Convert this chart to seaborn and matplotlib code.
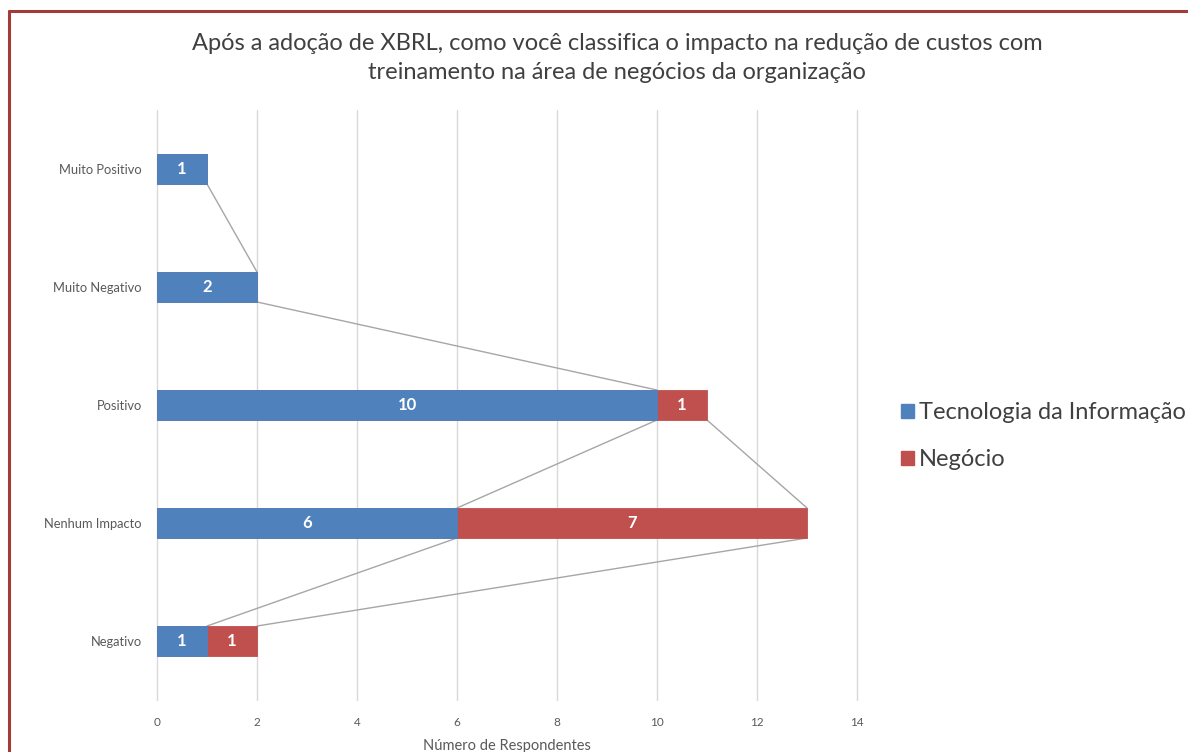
import matplotlib
matplotlib.use("Agg")
import matplotlib.pyplot as plt
from matplotlib.lines import Line2D
from matplotlib.patches import Patch
import numpy as np
import pandas as pd
import seaborn as sns

# Survey answers, top to bottom
categories = ["Muito Positivo", "Muito Negativo", "Positivo", "Nenhum Impacto", "Negativo"]
ti_values = [1, 2, 10, 6, 1]        # Tecnologia da Informação
negocio_values = [0, 0, 1, 7, 1]    # Negócio
x_ticks = [0, 2, 4, 6, 8, 10, 12, 14]

title = ("Após a adoção de XBRL, como você classifica o impacto na redução de custos com\n"
         "treinamento na área de negócios da organização")
x_label = "Número de Respondentes"
series_names = ["Tecnologia da Informação", "Negócio"]

BLUE = "#4F81BD"
RED = "#C0504D"
TEXT = "#404040"

sns.set_theme(style="white")
plt.rcParams["font.family"] = ["Lato", "DejaVu Sans"]

ti = np.array(ti_values, dtype=float)
neg = np.array(negocio_values, dtype=float)
total = ti + neg

df = pd.DataFrame({"categoria": categories, "ti": ti, "total": total})

W, H = 1188, 752
fig = plt.figure(figsize=(W / 100, H / 100), dpi=100)
ax = fig.add_axes([157 / W, 1 - 700 / H, 700 / W, 590 / H])

bar_h = 0.254
# Stacked bars: the totals in red, with the TI share drawn over them in blue
sns.barplot(data=df, y="categoria", x="total", order=categories, color=RED,
            saturation=1, width=bar_h, orient="h", ax=ax, zorder=3,
            edgecolor=RED, linewidth=0.6)
sns.barplot(data=df, y="categoria", x="ti", order=categories, color=BLUE,
            saturation=1, width=bar_h, orient="h", ax=ax, zorder=4,
            edgecolor=BLUE, linewidth=0.6)

ax.set_xlim(0, 14)
ax.set_ylim(4.5, -0.5)

# Series lines joining the end of each segment to the next bar
line_kw = dict(color="#A6A6A6", lw=1.0, zorder=2)
for i in range(len(categories) - 1):
    y0, y1 = i + bar_h / 2, i + 1 - bar_h / 2
    ax.plot([ti[i], ti[i + 1]], [y0, y1], **line_kw)
    if neg[i] > 0 and neg[i + 1] > 0:
        ax.plot([total[i], total[i + 1]], [y0, y1], **line_kw)

# Value labels inside the segments
for i in range(len(categories)):
    if ti[i] > 0:
        ax.text(ti[i] / 2, i, f"{ti_values[i]}", ha="center", va="center",
                color="white", fontsize=12, fontweight="bold", zorder=5)
    if neg[i] > 0:
        ax.text(ti[i] + neg[i] / 2, i, f"{negocio_values[i]}", ha="center",
                va="center", color="white", fontsize=12, fontweight="bold", zorder=5)

ax.set_xticks(x_ticks)
ax.set_xticklabels([str(t) for t in x_ticks])
ax.grid(axis="x", color="#D9D9D9", lw=1.0, zorder=0)
ax.grid(axis="y", visible=False)
for gl in ax.get_xgridlines():
    gl.set_clip_on(False)
for s in ax.spines.values():
    s.set_visible(False)
ax.tick_params(axis="x", length=0, pad=12, labelsize=8.5, labelcolor="#595959")
ax.tick_params(axis="y", length=0, pad=11, labelsize=9.3, labelcolor="#595959")
ax.set_ylabel("")
ax.set_xlabel(x_label, fontsize=10.5, color="#595959", labelpad=8)

fig.text(617 / W, 1 - 58 / H, title, ha="center", va="center", fontsize=17,
         color=TEXT, linespacing=1.45)

handles = [Patch(facecolor=BLUE, edgecolor=BLUE), Patch(facecolor=RED, edgecolor=RED)]
fig.legend(handles, series_names, loc="center left",
           bbox_to_anchor=(884 / W, 1 - 436 / H), frameon=False, fontsize=17,
           handlelength=0.55, handleheight=0.55, handletextpad=0.22,
           labelspacing=1.1, labelcolor=TEXT, borderpad=0.2)

# Frame lines along the top and left edges
border = "#A33B3B"
fig.add_artist(Line2D([9 / W, 1], [1 - 11 / H, 1 - 11 / H], color=border, lw=2.2,
                      transform=fig.transFigure))
fig.add_artist(Line2D([9 / W, 9 / W], [0, 1 - 11 / H], color=border, lw=2.2,
                      transform=fig.transFigure))

fig.savefig("out.png", dpi=100, facecolor="white")
